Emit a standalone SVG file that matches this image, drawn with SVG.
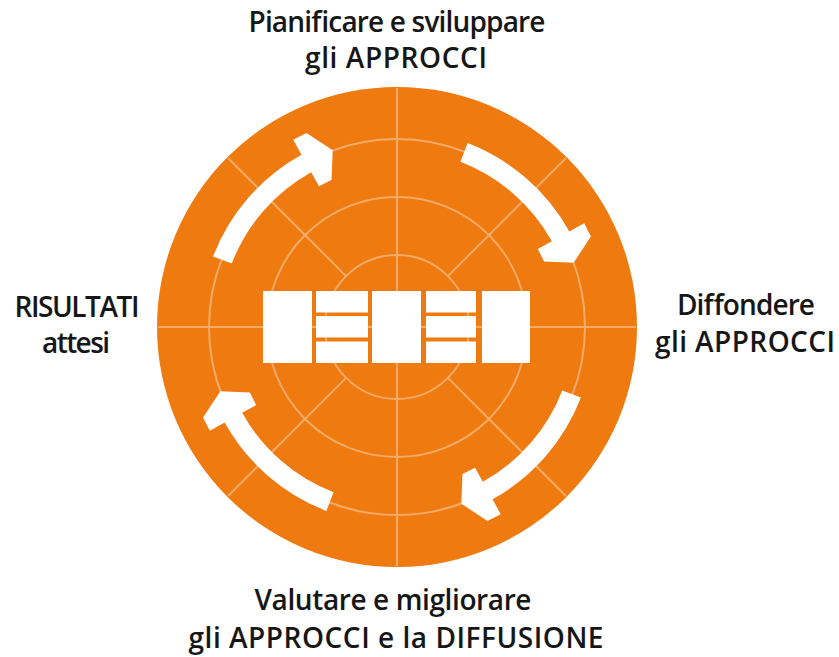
<svg xmlns="http://www.w3.org/2000/svg" xmlns:xlink="http://www.w3.org/1999/xlink" width="839" height="657" viewBox="0 0 839 657">
<style>
.lbl{font-family:"Open Sans","Noto Sans","Liberation Sans",sans-serif;font-size:28px;font-weight:600;fill:#161616;text-anchor:middle}
.grid{fill:none;stroke:#F4AB68;stroke-width:2}
.blk{fill:#FFFFFF}
.arr{fill:#FFFFFF}
</style>
<defs>
<path id="arrow" d="M 580.92 397.60 A 197 197 0 0 1 492.51 499.30 L 500.75 514.17 L 487.44 520.95 L 461.30 503.66 L 462.49 474.08 L 475.05 467.81 L 482.81 481.81 A 177 177 0 0 0 562.24 390.43 Z"/>
</defs>
<g id="wheel">
<circle cx="397" cy="327" r="240" fill="#EE7A10"/>
<circle class="grid" cx="397" cy="327" r="72"/>
<circle class="grid" cx="397" cy="327" r="130"/>
<circle class="grid" cx="397" cy="327" r="188"/>
<line class="grid" x1="397" y1="88" x2="397" y2="566"/>
<line class="grid" x1="158" y1="327" x2="636" y2="327"/>
<line class="grid" x1="346.1" y1="276.1" x2="228" y2="158"/>
<line class="grid" x1="447.9" y1="276.1" x2="566" y2="158"/>
<line class="grid" x1="447.9" y1="377.9" x2="566" y2="496"/>
<line class="grid" x1="346.1" y1="377.9" x2="228" y2="496"/>
</g>
<g id="center-block">
<rect class="blk" x="263" y="291" width="49" height="72"/>
<rect class="blk" x="316" y="291" width="52" height="21.5"/>
<rect class="blk" x="316" y="316" width="52" height="21.5"/>
<rect class="blk" x="316" y="341.5" width="52" height="21.5"/>
<rect class="blk" x="372" y="291" width="49" height="72"/>
<rect class="blk" x="426" y="291" width="50" height="21.5"/>
<rect class="blk" x="426" y="316" width="50" height="21.5"/>
<rect class="blk" x="426" y="341.5" width="50" height="21.5"/>
<rect class="blk" x="482" y="291" width="48" height="72"/>
</g>
<g id="connectors">
<use class="arr" xlink:href="#arrow" href="#arrow" transform="rotate(180 397 327)"/>
<use class="arr" xlink:href="#arrow" href="#arrow" transform="rotate(-90 397 327)"/>
<use class="arr" xlink:href="#arrow" href="#arrow"/>
<use class="arr" xlink:href="#arrow" href="#arrow" transform="rotate(90 397 327)"/>
</g>
<g id="label-top">
<text class="lbl" x="397" y="31.5" textLength="297" lengthAdjust="spacing">Pianificare e sviluppare</text>
<text class="lbl" x="396" y="68" textLength="182" lengthAdjust="spacing">gli APPROCCI</text>
</g>
<g id="label-right">
<text class="lbl" x="746" y="315" textLength="138" lengthAdjust="spacing">Diffondere</text>
<text class="lbl" x="745" y="352" textLength="180" lengthAdjust="spacing">gli APPROCCI</text>
</g>
<g id="label-bottom">
<text class="lbl" x="393" y="610" textLength="277" lengthAdjust="spacing">Valutare e migliorare</text>
<text class="lbl" x="396" y="648" textLength="415" lengthAdjust="spacing">gli APPROCCI e la DIFFUSIONE</text>
</g>
<g id="label-left">
<text class="lbl" x="77" y="316.5" textLength="125" lengthAdjust="spacing">RISULTATI</text>
<text class="lbl" x="76" y="353" textLength="68" lengthAdjust="spacing">attesi</text>
</g>
</svg>
